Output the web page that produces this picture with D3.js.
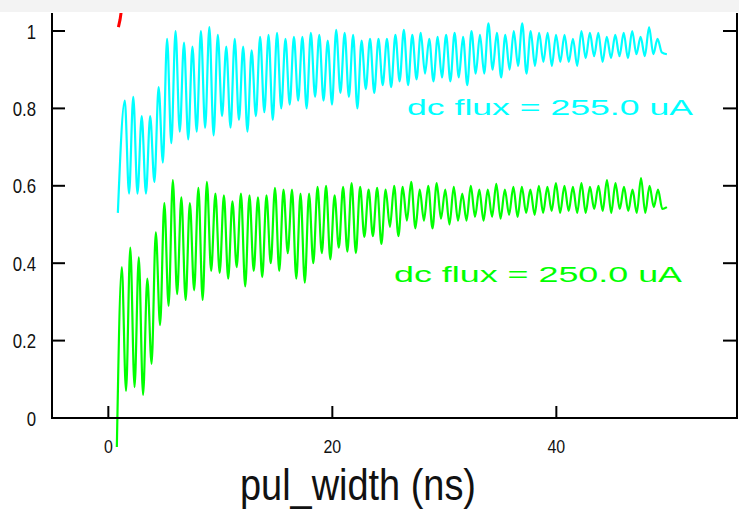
<!DOCTYPE html>
<html>
<head>
<meta charset="utf-8">
<script src="https://cdn.jsdelivr.net/npm/d3@7"></script>
<style>
  html, body { margin: 0; padding: 0; background: #ffffff; }
  svg { display: block; }
  text { font-family: "Liberation Sans", Arial, Helvetica, sans-serif; }
</style>
</head>
<body>
<svg id="chart" width="739" height="510"></svg>
<script>
// Axis ticks
const xTicks = [0, 20, 40];
const yTicks = [0, 0.2, 0.4, 0.6, 0.8, 1];
const xTitle = "pul_width (ns)";

// dc flux = 255.0 uA : successive maxima / minima of the oscillation
const cyanLabel = "dc flux = 255.0 uA";
const cyanStart = [0.85, 0.53];           // [t (ns), value]
const cyanFirstPeakT = 1.47;
const cyanPeriod = 0.755;
const cyanPeaks = [
  0.82, 0.83, 0.78, 0.78, 0.855, 0.98, 1.00, 0.97, 0.96, 1.00, 1.01, 0.99,
  0.96, 0.98, 0.96, 0.95, 0.985, 0.99, 0.995, 0.98, 0.985, 0.985, 0.995, 0.99, 0.975, 1.003,
  0.995, 0.99, 0.975, 0.98, 0.98, 0.98, 0.99, 1.003, 0.99, 0.995, 0.98, 0.985,
  0.99, 0.995, 0.985, 1.0, 0.99, 1.02, 0.995, 0.99, 1.0, 1.02, 1.0, 0.995, 0.995,
  0.99, 0.99, 0.98, 1.0, 0.995, 0.995, 0.985, 0.99, 0.995, 1.0, 0.985, 1.01, 0.98
];
const cyanTroughs = [
  0.58, 0.58, 0.58, 0.61, 0.66, 0.71, 0.74, 0.72, 0.74, 0.75, 0.73, 0.78,
  0.75, 0.77, 0.74, 0.78, 0.79, 0.77, 0.80, 0.81, 0.82, 0.80, 0.83, 0.82, 0.81, 0.84,
  0.83, 0.80, 0.85, 0.84, 0.86, 0.855, 0.87, 0.86, 0.875, 0.89, 0.87, 0.88,
  0.87, 0.88, 0.86, 0.89, 0.89, 0.90, 0.88, 0.90, 0.91, 0.89, 0.91, 0.92, 0.91,
  0.92, 0.92, 0.91, 0.93, 0.935, 0.92, 0.93, 0.935, 0.93, 0.94, 0.935, 0.94, 0.945
];
const cyanEnd = [49.87, 0.94];

// dc flux = 250.0 uA
const greenLabel = "dc flux = 250.0 uA";
const greenStart = [0.76, -0.075];
const greenFirstPeakT = 1.2;
const greenPeriod = 0.76;
const greenPeaks = [
  0.39, 0.44, 0.415, 0.36, 0.48, 0.555, 0.615, 0.57, 0.555, 0.595, 0.61, 0.58, 0.575,
  0.56, 0.58, 0.575, 0.57, 0.575, 0.595, 0.59, 0.59, 0.58, 0.58, 0.597, 0.60, 0.575,
  0.597, 0.607, 0.597, 0.59, 0.595, 0.59, 0.60, 0.597, 0.61, 0.59, 0.60, 0.607,
  0.59, 0.597, 0.58, 0.60, 0.59, 0.59, 0.605, 0.59, 0.597, 0.597, 0.59, 0.60, 0.597,
  0.607, 0.60, 0.597, 0.607, 0.597, 0.60, 0.615, 0.607, 0.597, 0.59, 0.62, 0.60, 0.59
];
const greenTroughs = [
  0.07, 0.08, 0.06, 0.14, 0.24, 0.29, 0.32, 0.305, 0.33, 0.305, 0.38, 0.375, 0.36,
  0.39, 0.34, 0.38, 0.364, 0.40, 0.38, 0.426, 0.36, 0.35, 0.40, 0.426, 0.41, 0.44,
  0.43, 0.426, 0.468, 0.47, 0.45, 0.494, 0.47, 0.51, 0.49, 0.51, 0.49, 0.515,
  0.50, 0.51, 0.51, 0.52, 0.51, 0.52, 0.515, 0.525, 0.52, 0.53, 0.525, 0.53, 0.535,
  0.53, 0.535, 0.53, 0.53, 0.54, 0.535, 0.53, 0.54, 0.535, 0.53, 0.53, 0.545, 0.54
];
const greenEnd = [49.87, 0.545];

// third trace, mostly above the visible range
const redT = [0.9, 1.05, 1.3, 1.5];
const redV = [1.01, 1.03, 1.08, 1.12];

const svg = d3.select("#chart");
const W = 739, H = 510;
const plot = { left: 52, right: 737, top: 13, bottom: 418 };

const x = d3.scaleLinear().domain([-5.03, 56.13]).range([plot.left, plot.right]);
const y = d3.scaleLinear().domain([0, 1.0465]).range([plot.bottom, plot.top]);

// light strip along the top edge
svg.append("rect").attr("x", 0).attr("y", 0).attr("width", W).attr("height", 12)
  .attr("fill", "#f3f3f3");

svg.append("defs").append("clipPath").attr("id", "plotClip")
  .append("rect").attr("x", plot.left).attr("y", plot.top)
  .attr("width", plot.right - plot.left).attr("height", plot.bottom - plot.top + 60);

function buildSeries(start, firstT, period, peaks, troughs, end) {
  const pts = [start];
  peaks.forEach((p, i) => {
    const t = firstT + i * period;
    pts.push([t, p]);
    pts.push([t + period / 2, troughs[i]]);
  });
  pts.push(end);
  return pts;
}

const line = d3.line().x(d => x(d[0])).y(d => y(d[1])).curve(d3.curveMonotoneX);
const traces = svg.append("g").attr("clip-path", "url(#plotClip)");

traces.append("path")
  .datum(buildSeries(cyanStart, cyanFirstPeakT, cyanPeriod, cyanPeaks, cyanTroughs, cyanEnd))
  .attr("d", line).attr("fill", "none").attr("stroke", "#00ffff")
  .attr("stroke-width", 2.2).attr("stroke-linejoin", "round");

traces.append("path")
  .datum(buildSeries(greenStart, greenFirstPeakT, greenPeriod, greenPeaks, greenTroughs, greenEnd))
  .attr("d", line).attr("fill", "none").attr("stroke", "#00ff00")
  .attr("stroke-width", 2.2).attr("stroke-linejoin", "round");

traces.append("path")
  .datum(redT.map((t, i) => [t, redV[i]]))
  .attr("d", d3.line().x(d => x(d[0])).y(d => y(d[1])))
  .attr("fill", "none").attr("stroke", "#ff0000").attr("stroke-width", 3);

// axes frame: left, right and bottom
const axisG = svg.append("g").attr("stroke", "#000").attr("stroke-width", 2);
axisG.append("line").attr("x1", plot.left).attr("x2", plot.left)
  .attr("y1", plot.top).attr("y2", plot.bottom + 1);
axisG.append("line").attr("x1", plot.right).attr("x2", plot.right)
  .attr("y1", plot.top).attr("y2", plot.bottom + 1);
axisG.append("line").attr("x1", plot.left - 1).attr("x2", plot.right + 1)
  .attr("y1", plot.bottom).attr("y2", plot.bottom);

// y ticks, drawn inward on both sides
yTicks.forEach(v => {
  axisG.append("line").attr("x1", plot.left).attr("x2", plot.left + 13)
    .attr("y1", y(v)).attr("y2", y(v));
  axisG.append("line").attr("x1", plot.right).attr("x2", plot.right - 14)
    .attr("y1", y(v)).attr("y2", y(v));
});
// x ticks, drawn upward
xTicks.forEach(v => {
  axisG.append("line").attr("x1", x(v)).attr("x2", x(v))
    .attr("y1", plot.bottom).attr("y2", plot.bottom - 12);
});

const fmtY = d => (d === 0 || d === 1) ? String(d) : d3.format(".1f")(d);

svg.append("g").selectAll("text").data(yTicks).join("text")
  .attr("transform", d => `translate(36,${y(d)}) scale(0.8,1)`)
  .attr("dy", "0.36em")
  .attr("text-anchor", "end")
  .attr("font-size", 21)
  .attr("fill", "#111")
  .text(fmtY);

svg.append("g").selectAll("text").data(xTicks).join("text")
  .attr("transform", d => `translate(${x(d)},453) scale(0.84,1)`)
  .attr("text-anchor", "middle")
  .attr("font-size", 19)
  .attr("fill", "#111")
  .text(d => d);

svg.append("text")
  .attr("x", 240).attr("y", 500)
  .attr("font-size", 45)
  .attr("textLength", 236).attr("lengthAdjust", "spacingAndGlyphs")
  .attr("fill", "#111")
  .text(xTitle);

svg.append("text")
  .attr("x", 407).attr("y", 115)
  .attr("font-size", 22)
  .attr("textLength", 286).attr("lengthAdjust", "spacingAndGlyphs")
  .attr("fill", "#00ffff")
  .text(cyanLabel);

svg.append("text")
  .attr("x", 394).attr("y", 282)
  .attr("font-size", 22)
  .attr("textLength", 288).attr("lengthAdjust", "spacingAndGlyphs")
  .attr("fill", "#00ff00")
  .text(greenLabel);
</script>
</body>
</html>
